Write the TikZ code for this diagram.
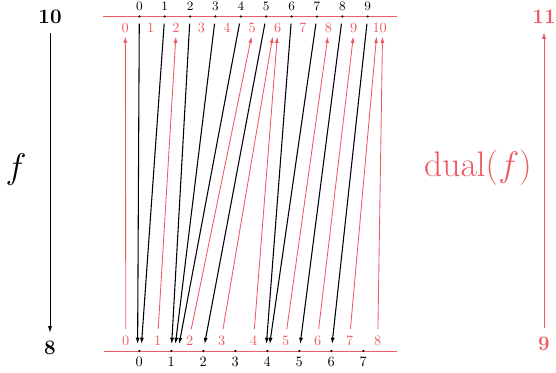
\documentclass[tikz,border=0pt]{standalone}
\usepackage{amsmath}
\usetikzlibrary{arrows.meta}
\definecolor{dualred}{RGB}{236,90,100}

\begin{document}
\begin{tikzpicture}[x=0.7pt, y=-0.7pt,
  dot/.style={circle, fill, inner sep=0pt, minimum size=1.7pt},
  redlab/.style={dualred, inner sep=0pt},
  biglab/.style={font=\Large\bfseries, inner sep=0pt},
  arr/.style={-{Latex[length=4.4pt,width=2.8pt]}, line width=0.75pt}]
  \useasboundingbox (0,0) rectangle (556,372);
  \draw[dualred, line width=0.6pt] (103,16.5) -- (397,16.5);
  \draw[dualred, line width=0.6pt] (104,351) -- (397,351);
  % black points, 10 on top and 8 below
  \foreach \i in {0,...,9} {
    \node[dot] (t\i) at ({139.3+25.38*\i},16.5) {};
    \node[font=\small, inner sep=0pt] (tl\i) at ({139.3+25.38*\i},6.5) {$\i$};
  }
  \foreach \j in {0,...,7} {
    \node[dot] (b\j) at ({139.3+32*\j},351) {};
    \node[inner sep=0pt] (bl\j) at ({139.3+32*\j},361.7) {$\j$};
  }
  % red points in the gaps
  \foreach \k in {0,...,9}
    \node[redlab] (rt\k) at ({125.3+25.38*\k},28.3) {$\k$};
  \node[redlab] (rt10) at (379.7,28.3) {$10$};
  \foreach \j in {0,...,7}
    \node[redlab] (rb\j) at ({125.8+32*\j},341) {$\j$};
  \node[redlab] (rb8) at (377.8,341) {$8$};
  \foreach \i/\j/\d in {0/0/-1.2, 1/0/1.2, 2/1/0, 3/1/2.3, 4/1/4.6,
                        5/2/0, 6/4/-1, 7/4/1, 8/5/0, 9/6/0}
    \draw[arr, shorten <=5pt, shorten >=4.9pt] (t\i.center) -- ([xshift=\d pt]b\j.center);
  \foreach \j/\k/\d in {0/0/0, 1/2/0, 2/5/0, 3/6/-3, 4/6/0,
                        5/8/0, 6/9/0, 7/10/-2, 8/10/2}
    \draw[arr, dualred, line width=0.6pt, shorten <=4.9pt, shorten >=2.4pt]
      (rb\j.north) -- ([xshift=\d pt]rt\k.south);
  % the two maps
  \node[biglab] (m) at (50,17) {10};
  \node[biglab] (n) at (50,347.5) {8};
  \draw[arr, line width=0.5pt, shorten <=6.5pt, shorten >=5.5pt] (m) -- (n);
  \node[font=\Huge] (fl) at (16,170) {$f$};
  \node[biglab, dualred] (p) at (544,344) {9};
  \node[biglab, dualred] (q) at (544,17) {11};
  \draw[arr, dualred, line width=0.5pt, shorten <=6.5pt, shorten >=5.9pt] (p) -- (q);
  \node[font=\Huge, dualred] (dl) at (478,168) {$\operatorname{dual}(f)$};
\end{tikzpicture}
\end{document}
